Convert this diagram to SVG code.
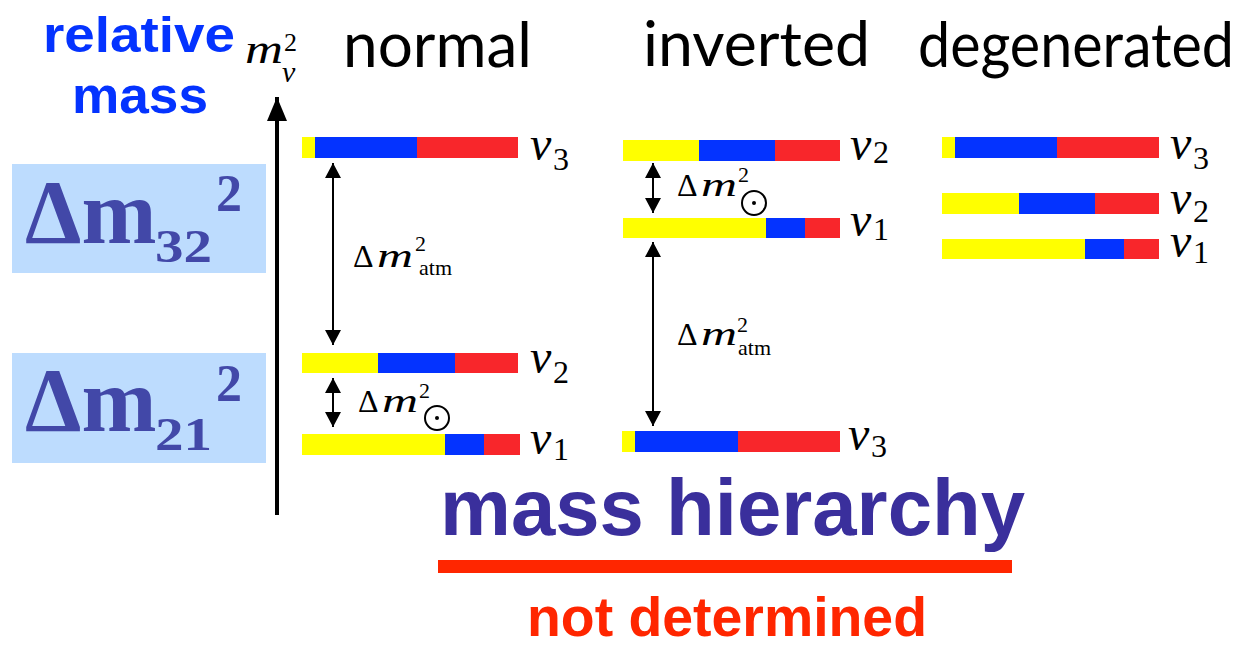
<svg xmlns="http://www.w3.org/2000/svg" width="1247" height="646" viewBox="0 0 1247 646">
<style>
.y{fill:#FFFF00}.b{fill:#0433FF}.r{fill:#F8262B}
.nu{font-family:"Liberation Serif",serif;font-style:italic;font-size:48px;fill:#000}
.sub{font-family:"Liberation Serif",serif;font-size:32px;fill:#000}
.dm{font-family:"Liberation Serif",serif;font-size:32px;fill:#000}
.mi{font-family:"Liberation Serif",serif;font-style:italic;font-size:34px;fill:#000}
.sm{font-family:"Liberation Serif",serif;font-size:22px;fill:#000}
.title{font-family:Lato,"Liberation Sans",sans-serif;font-size:62px;fill:#000}
.big{font-family:"Liberation Serif",serif;font-weight:bold;fill:#4248A8}
.box{fill:#BDDCFE}
.arr{stroke:#000;stroke-width:2;fill:none}
</style>
<defs>
<marker id="ah" viewBox="0 0 15 16" refX="15" refY="8" markerWidth="15" markerHeight="16" markerUnits="userSpaceOnUse" orient="auto-start-reverse">
<path d="M0,0 L15,8 L0,16 z" fill="#000"/>
</marker>
<marker id="axh" viewBox="0 0 24 20" refX="24" refY="10" markerWidth="24" markerHeight="20" markerUnits="userSpaceOnUse" orient="auto">
<path d="M0,0 L24,10 L0,20 z" fill="#000"/>
</marker>
</defs>
<rect width="1247" height="646" fill="#fff"/>

<g id="label-relative-mass" font-family="'Liberation Sans',Arial,sans-serif" font-weight="bold" fill="#0433FF">
<text x="43" y="52" font-size="50" textLength="192" lengthAdjust="spacingAndGlyphs">relative</text>
<text x="72" y="113" font-size="52" textLength="136" lengthAdjust="spacingAndGlyphs">mass</text>
</g>

<g id="axis">
<line x1="277" y1="515" x2="277" y2="97" stroke="#000" stroke-width="4" marker-end="url(#axh)"/>
<text x="245" y="63" font-family="'Liberation Serif',serif" font-style="italic" font-size="40" textLength="38" lengthAdjust="spacingAndGlyphs">m</text>
<text x="282" y="82" font-family="'Liberation Serif',serif" font-style="italic" font-size="30">ν</text>
<text x="284" y="51" font-family="'Liberation Serif',serif" font-size="26">2</text>
</g>

<g id="titles">
<text class="title" x="343" y="67" textLength="189" lengthAdjust="spacingAndGlyphs">normal</text>
<text class="title" x="643" y="66" textLength="227" lengthAdjust="spacingAndGlyphs">inverted</text>
<text class="title" x="918" y="67" textLength="316" lengthAdjust="spacingAndGlyphs">degenerated</text>
</g>

<g id="box-dm32">
<rect class="box" x="12" y="164" width="254" height="109"/>
<text class="big" x="25" y="243" font-size="90">Δm</text>
<text class="big" x="155" y="262" font-size="46" textLength="57" lengthAdjust="spacingAndGlyphs">32</text>
<text class="big" x="216" y="211" font-size="52">2</text>
</g>
<g id="box-dm21">
<rect class="box" x="12" y="353" width="254" height="110"/>
<text class="big" x="25" y="431" font-size="90">Δm</text>
<text class="big" x="155" y="450" font-size="46" textLength="57" lengthAdjust="spacingAndGlyphs">21</text>
<text class="big" x="216" y="401" font-size="52">2</text>
</g>

<g id="normal-nu3">
<rect class="y" x="302" y="137" width="13" height="21"/><rect class="b" x="315" y="137" width="102" height="21"/><rect class="r" x="417" y="137" width="101" height="21"/>
<text class="nu" x="530" y="160">ν</text><text class="sub" x="553" y="170">3</text>
</g>
<g id="normal-nu2">
<rect class="y" x="302" y="353" width="76" height="20"/><rect class="b" x="378" y="353" width="77" height="20"/><rect class="r" x="455" y="353" width="63" height="20"/>
<text class="nu" x="530" y="373">ν</text><text class="sub" x="553" y="383">2</text>
</g>
<g id="normal-nu1">
<rect class="y" x="302" y="434" width="143" height="21"/><rect class="b" x="445" y="434" width="39" height="21"/><rect class="r" x="484" y="434" width="36" height="21"/>
<text class="nu" x="530" y="454">ν</text><text class="sub" x="553" y="460">1</text>
</g>

<g id="inverted-nu2">
<rect class="y" x="623" y="140" width="76" height="21"/><rect class="b" x="699" y="140" width="76" height="21"/><rect class="r" x="775" y="140" width="65" height="21"/>
<text class="nu" x="850" y="160">ν</text><text class="sub" x="873" y="163">2</text>
</g>
<g id="inverted-nu1">
<rect class="y" x="623" y="218" width="143" height="20"/><rect class="b" x="766" y="218" width="39" height="20"/><rect class="r" x="805" y="218" width="35" height="20"/>
<text class="nu" x="850" y="236">ν</text><text class="sub" x="873" y="240">1</text>
</g>
<g id="inverted-nu3">
<rect class="y" x="622" y="431" width="13" height="21"/><rect class="b" x="635" y="431" width="103" height="21"/><rect class="r" x="738" y="431" width="102" height="21"/>
<text class="nu" x="848" y="450">ν</text><text class="sub" x="871" y="457">3</text>
</g>

<g id="degenerated-nu3">
<rect class="y" x="942" y="137" width="13" height="21"/><rect class="b" x="955" y="137" width="102" height="21"/><rect class="r" x="1057" y="137" width="102" height="21"/>
<text class="nu" x="1170" y="159">ν</text><text class="sub" x="1193" y="169">3</text>
</g>
<g id="degenerated-nu2">
<rect class="y" x="942" y="193" width="77" height="21"/><rect class="b" x="1019" y="193" width="76" height="21"/><rect class="r" x="1095" y="193" width="64" height="21"/>
<text class="nu" x="1170" y="214">ν</text><text class="sub" x="1193" y="222">2</text>
</g>
<g id="degenerated-nu1">
<rect class="y" x="942" y="239" width="143" height="20"/><rect class="b" x="1085" y="239" width="39" height="20"/><rect class="r" x="1124" y="239" width="35" height="20"/>
<text class="nu" x="1170" y="257">ν</text><text class="sub" x="1193" y="263">1</text>
</g>

<g id="connectors">
<line class="arr" x1="333" y1="163" x2="333" y2="345" marker-start="url(#ah)" marker-end="url(#ah)"/>
<line class="arr" x1="333" y1="378" x2="333" y2="427" marker-start="url(#ah)" marker-end="url(#ah)"/>
<line class="arr" x1="653" y1="163" x2="653" y2="213" marker-start="url(#ah)" marker-end="url(#ah)"/>
<line class="arr" x1="653" y1="242" x2="653" y2="426" marker-start="url(#ah)" marker-end="url(#ah)"/>
</g>

<g id="label-normal-atm">
<text class="dm" x="353" y="267">Δ</text>
<text class="mi" x="377" y="267" textLength="36" lengthAdjust="spacingAndGlyphs">m</text>
<text class="sm" x="415" y="251">2</text>
<text class="sm" x="419" y="275">atm</text>
</g>
<g id="label-normal-sol">
<text class="dm" x="358" y="412">Δ</text>
<text class="mi" x="382" y="412" textLength="36" lengthAdjust="spacingAndGlyphs">m</text>
<text class="sm" x="419" y="398">2</text>
<circle cx="437" cy="418" r="12" fill="none" stroke="#000" stroke-width="2"/><circle cx="437" cy="418" r="2" fill="#000"/>
</g>
<g id="label-inverted-sol">
<text class="dm" x="677" y="196">Δ</text>
<text class="mi" x="701" y="196" textLength="36" lengthAdjust="spacingAndGlyphs">m</text>
<text class="sm" x="738" y="182">2</text>
<circle cx="754" cy="203" r="12" fill="none" stroke="#000" stroke-width="2"/><circle cx="754" cy="203" r="2" fill="#000"/>
</g>
<g id="label-inverted-atm">
<text class="dm" x="677" y="345">Δ</text>
<text class="mi" x="701" y="345" textLength="36" lengthAdjust="spacingAndGlyphs">m</text>
<text class="sm" x="737" y="332">2</text>
<text class="sm" x="738" y="355">atm</text>
</g>

<g id="footer" font-family="'Liberation Sans',Arial,sans-serif" font-weight="bold">
<text x="440" y="535" font-size="80" fill="#3A2F9C" textLength="585" lengthAdjust="spacingAndGlyphs">mass hierarchy</text>
<rect x="438" y="560" width="574" height="13" fill="#FF2600"/>
<text x="527" y="636" font-size="56" fill="#FF2600" textLength="400" lengthAdjust="spacingAndGlyphs">not determined</text>
</g>
</svg>
